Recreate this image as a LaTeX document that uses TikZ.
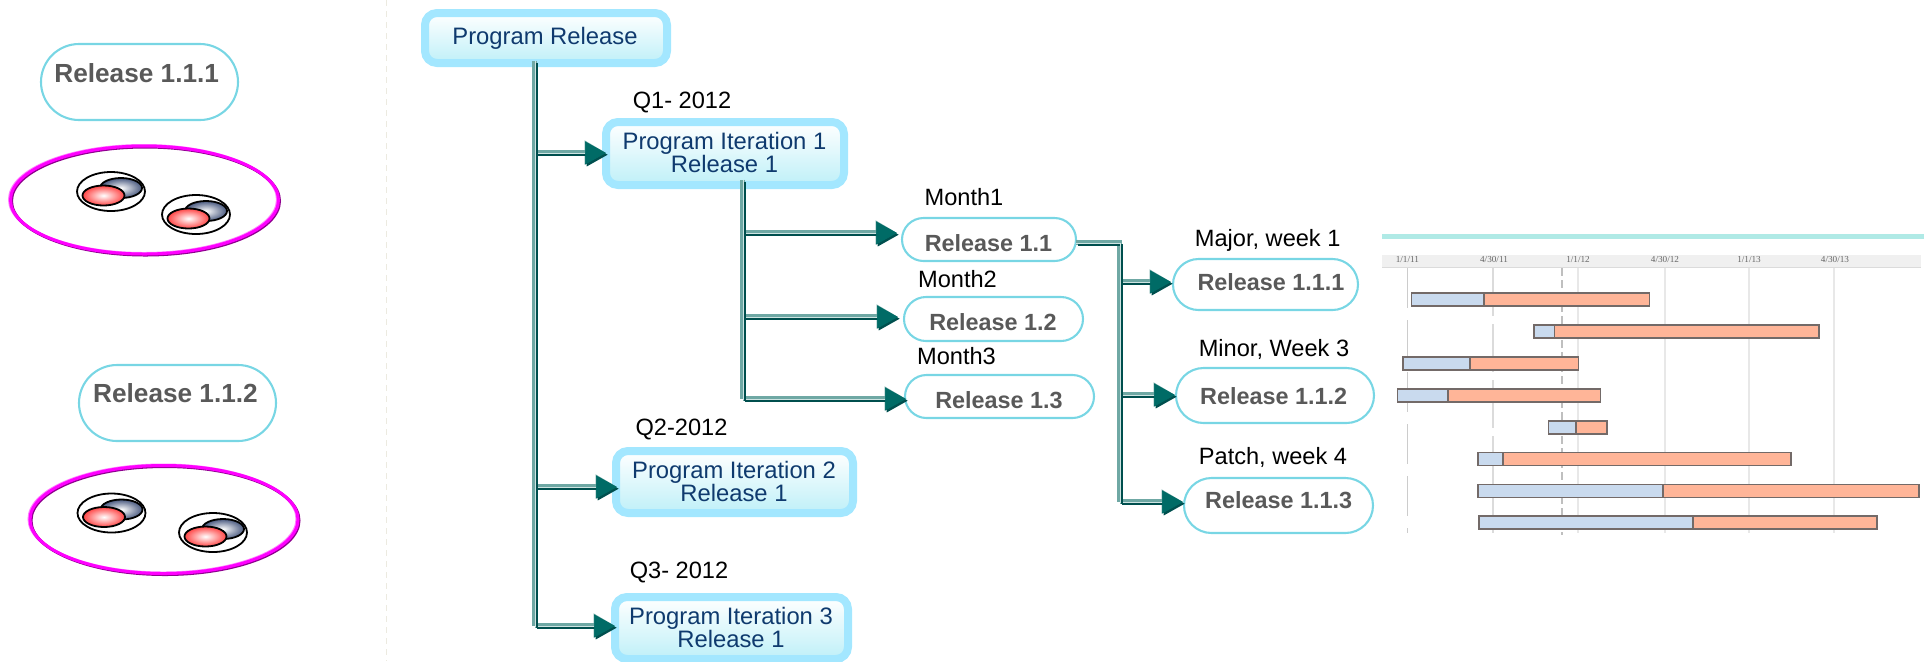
\documentclass[tikz,border=0pt]{standalone}
\usepackage{fontspec}
\setmainfont{Liberation Sans}
\newfontfamily\tinyserif{Liberation Serif}
\usetikzlibrary{arrows.meta,shapes.geometric,calc}
\definecolor{navy}{HTML}{0F3A6E}
\definecolor{skyb}{HTML}{A3E7FF}
\definecolor{skyf}{HTML}{BFF0F8}
\definecolor{pillc}{HTML}{78D6E4}
\definecolor{greytxt}{HTML}{595959}
\definecolor{pipelite}{HTML}{6FA8A4}
\definecolor{pipepale}{HTML}{CFE4E2}
\definecolor{pipedark}{HTML}{004F4E}
\definecolor{pipemain}{HTML}{006B66}
\definecolor{sepc}{HTML}{ECEAE0}
\definecolor{gridc}{HTML}{E8E8E8}
\definecolor{barb}{HTML}{C9DAEE}
\definecolor{baro}{HTML}{FFB598}
\definecolor{barl}{HTML}{736A68}
\definecolor{puremag}{HTML}{FF00FF}
\definecolor{magdark}{HTML}{8E008E}
\definecolor{magpale}{HTML}{FF80FF}
\definecolor{discblue}{HTML}{4A5A80}
\definecolor{discred}{HTML}{FF4545}
\definecolor{tealbar}{HTML}{B0EAE6}
\tikzset{
  progbox/.style={rectangle,draw=skyb,line width=4pt,rounded corners=6pt,top color=white,bottom color=skyf,inner sep=0pt,outer sep=0pt},
  pill/.style={rectangle,draw=pillc,line width=1.05pt,rounded corners=#1,inner sep=0pt,outer sep=0pt},
  progtxt/.style={text=navy,font=\fontsize{11.9}{11.5}\selectfont,align=center,inner sep=0pt},
  reltxt/.style={text=greytxt,font=\fontsize{11.7}{14}\selectfont\bfseries,inner sep=0pt},
  bigreltxt/.style={text=greytxt,font=\fontsize{13.1}{15}\selectfont\bfseries,inner sep=0pt},
  labtxt/.style={text=black,font=\fontsize{11.8}{14}\selectfont,inner sep=0pt},
  plate/.style={ellipse,draw=puremag,line width=1.5pt,inner sep=0pt,outer sep=0pt},
  plateshadow/.style={ellipse,draw=#1,line width=1.5pt,inner sep=0pt,outer sep=0pt},
  ring/.style={ellipse,draw=black,line width=.9pt,minimum width=34pt,minimum height=19.5pt,inner sep=0pt},
  bluedisc/.style={ellipse,draw=black,line width=.9pt,minimum width=21pt,minimum height=10pt,inner sep=0pt,inner color=white,outer color=discblue},
  reddisc/.style={ellipse,draw=black,line width=.9pt,minimum width=21pt,minimum height=10pt,inner sep=0pt,inner color=white,outer color=discred},
  pipeA/.style={draw=pipelite,line width=2.4pt,transform canvas={xshift=-.25pt,yshift=.25pt}},
  pipeB/.style={draw=pipepale,line width=.35pt},
  pipeC/.style={draw=pipedark,line width=1.1pt,transform canvas={xshift=.85pt,yshift=-.85pt}},
  tipA/.style={-{Triangle[length=10.5pt,width=11.5pt,color=pipelite,fill=pipelite]}},
  tipB/.style={-{Triangle[length=10.5pt,width=11.5pt,color=pipemain,fill=pipemain]}},
  tipC/.style={-{Triangle[length=10.5pt,width=11.5pt,color=pipedark,fill=pipedark]}},
  barblue/.style={fill=barb,draw=barl,line width=.85pt},
  barorange/.style={fill=baro,draw=barl,line width=.85pt},
  gridl/.style={draw=gridc,line width=.9pt},
  datel/.style={text=black!60,font=\tinyserif\fontsize{4.6}{5}\selectfont,inner sep=0pt},
}
\newcommand\pipe[1]{\draw[pipeA] #1;\draw[pipeC] #1;\draw[pipeB] #1;}
\newcommand\pipearrow[1]{%
  \draw[pipeA,tipA] #1;\draw[pipeC,tipC] #1;\draw[pipeB,tipB] #1;}
\newcommand\discgroup[3]{%
  \node[ring] (#1r) at (#2,#3) {};
  \node[bluedisc] (#1b) at ($(#1r)+(10,-3.5)$) {};
  \node[reddisc] (#1d) at ($(#1r)+(-7.5,4)$) {};}
\newcommand\ganttbar[4]{%
  \draw[barblue] (#1,#4-6.5) rectangle (#2,#4+6.5);
  \draw[barorange] (#2,#4-6.5) rectangle (#3,#4+6.5);}
\begin{document}
\begin{tikzpicture}[x=.5pt,y=-.5pt]
\useasboundingbox (0,0) rectangle (1929,661);
% separator
\coordinate (septop) at (386.5,0);
\coordinate (sepbot) at (386.5,661);
\draw[sepc,line width=.8pt,dash pattern=on 3pt off 2.5pt] (septop) -- (sepbot);
% left panel
\node[pill=19pt,minimum width=98.5pt,minimum height=38pt] (L1) at (139.5,82) {};
\node[bigreltxt] (L1t) at (136.7,73) {Release 1.1.1};
\node[pill=19pt,minimum width=98.5pt,minimum height=38pt] (L2) at (177.5,403) {};
\node[bigreltxt] (L2t) at (175.5,393.5) {Release 1.1.2};
\node[plateshadow=magpale,minimum width=134pt,minimum height=54pt] (P1a) at (143.5,199.5) {};
\node[plateshadow=magdark,minimum width=134pt,minimum height=54pt] (P1b) at (145.5,201) {};
\node[plate,minimum width=134pt,minimum height=54pt] (P1) at (144.5,200) {};
\discgroup{A}{111}{191.5}
\discgroup{B}{196}{214.5}
\node[plateshadow=magpale,minimum width=134pt,minimum height=54pt] (P2a) at (163,519) {};
\node[plateshadow=magdark,minimum width=134pt,minimum height=54pt] (P2b) at (165,520.5) {};
\node[plate,minimum width=134pt,minimum height=54pt] (P2) at (164,519.5) {};
\discgroup{C}{111.5}{513}
\discgroup{D}{213}{532.5}
% program boxes
\node[progbox,minimum width=121pt,minimum height=25pt] (pr) at (546,38) {};
\node[progtxt] (prt) at (545,38) {Program Release};
\node[progbox,minimum width=119pt,minimum height=31.5pt] (it1) at (725,153.5) {};
\node[progtxt] (it1t) at (724.5,152) {Program Iteration 1\\Release 1};
\node[progbox,minimum width=118.5pt,minimum height=31pt] (it2) at (734.5,482) {};
\node[progtxt] (it2t) at (734,481) {Program Iteration 2\\Release 1};
\node[progbox,minimum width=116.5pt,minimum height=31pt] (it3) at (731.5,628) {};
\node[progtxt] (it3t) at (731,627.5) {Program Iteration 3\\Release 1};
\node[labtxt] (q1) at (682,102) {Q1- 2012};
\node[labtxt] (q2) at (681.5,429.5) {Q2-2012};
\node[labtxt] (q3) at (679,572) {Q3- 2012};
% releases
\node[pill=10.75pt,minimum width=87pt,minimum height=21.5pt] (r11) at (989,239.5) {};
\node[reltxt] (r11t) at (988.5,243) {Release 1.1};
\node[pill=11pt,minimum width=89.5pt,minimum height=22pt] (r12) at (993.5,319) {};
\node[reltxt] (r12t) at (993,322) {Release 1.2};
\node[pill=10.75pt,minimum width=94.5pt,minimum height=21.5pt] (r13) at (999.5,396.5) {};
\node[reltxt] (r13t) at (999,400) {Release 1.3};
\node[labtxt] (m1) at (964,197.5) {Month1};
\node[labtxt] (m2) at (957.5,279.5) {Month2};
\node[labtxt] (m3) at (956.5,356.5) {Month3};
\node[pill=12.75pt,minimum width=92.5pt,minimum height=25.5pt] (r111) at (1265.5,284.5) {};
\node[reltxt] (r111t) at (1271,282) {Release 1.1.1};
\node[pill=13.75pt,minimum width=99pt,minimum height=27.5pt] (r112) at (1275,395.5) {};
\node[reltxt] (r112t) at (1273.7,396) {Release 1.1.2};
\node[pill=13.75pt,minimum width=94.5pt,minimum height=27.5pt] (r113) at (1278.5,505.5) {};
\node[reltxt] (r113t) at (1278.7,500) {Release 1.1.3};
\node[labtxt] (w1) at (1267.7,240) {Major, week 1};
\node[labtxt] (w3) at (1274,349) {Minor, Week 3};
\node[labtxt] (w4) at (1273,457.5) {Patch, week 4};
% connector anchors
\coordinate (t1) at ([shift={(-11,-2)}]pr.south);
\coordinate (a1) at ([shift={(0,-.5)}]it1.west);
\coordinate (a2) at ([shift={(1,5)}]it2.west);
\coordinate (a3) at ([shift={(0,-2)}]it3.west);
\coordinate (t2) at ([shift={(18,-5)}]it1.south);
\coordinate (b1) at ([shift={(-5,-6.5)}]r11.west);
\coordinate (b2) at ([shift={(-6,-2)}]r12.west);
\coordinate (b3) at ([shift={(1,2.5)}]r13.west);
\coordinate (c1) at ([shift={(-2,-2.5)}]r111.west);
\coordinate (c2) at ([shift={(-1,-.5)}]r112.west);
\coordinate (c3) at ([shift={(-1,-3.5)}]r113.west);
\coordinate (s3) at ([yshift=-1.75pt]r11.east);
\coordinate (t3) at (1120,502);
% connectors
\pipearrow{(t1 |- a1) -- (a1)}
\pipearrow{(t1 |- a2) -- (a2)}
\pipearrow{(t1 |- a3) -- (a3)}
\pipe{(t1) -- (t1 |- a3)}
\pipearrow{(t2 |- b1) -- (b1)}
\pipearrow{(t2 |- b2) -- (b2)}
\pipearrow{(t2 |- b3) -- (b3)}
\pipe{(t2) -- (t2 |- b3)}
\pipearrow{(t3 |- c1) -- (c1)}
\pipearrow{(t3 |- c2) -- (c2)}
\pipearrow{(t3 |- c3) -- (c3)}
\pipe{(s3) -| (t3)}
% gantt picture
\fill[black!6] (1382,255) rectangle (1921,267);
\draw[black!14,line width=.7pt] (1382,267.5) -- (1921,267.5);
\fill[tealbar] (1382,234) rectangle (1924,239);
\draw[gridl,draw=black!20,dash pattern=on 20pt off 6pt] (1407.4,268) -- (1407.4,533);
\draw[gridl,draw=black!14,dash pattern=on 24pt off 4pt] (1493,268) -- (1493,533);
\draw[gridl] (1577.9,268) -- (1577.9,533);
\draw[gridl] (1664.6,268) -- (1664.6,533);
\draw[gridl] (1749,268) -- (1749,533);
\draw[gridl] (1834,268) -- (1834,533);
\draw[black!25,line width=.6pt,dash pattern=on 4pt off 2pt] (1562,268) -- (1562,535);
\node[datel] (d1) at (1407.4,259) {1/1/11};
\node[datel] (d2) at (1494,259) {4/30/11};
\node[datel] (d3) at (1578,259) {1/1/12};
\node[datel] (d4) at (1665,259) {4/30/12};
\node[datel] (d5) at (1749,259) {1/1/13};
\node[datel] (d6) at (1835,259) {4/30/13};
\ganttbar{1411.6}{1483.9}{1649.5}{299.3}
\ganttbar{1533.7}{1554.4}{1819}{331.3}
\ganttbar{1403.2}{1469.8}{1578.6}{363.3}
\ganttbar{1397.5}{1447.7}{1600.4}{395.7}
\ganttbar{1548.4}{1576.1}{1606.7}{427.3}
\ganttbar{1478.2}{1502.8}{1791}{459}
\ganttbar{1478.2}{1662.8}{1919}{491}
\ganttbar{1479.3}{1693}{1877}{522.7}
\end{tikzpicture}
\end{document}
